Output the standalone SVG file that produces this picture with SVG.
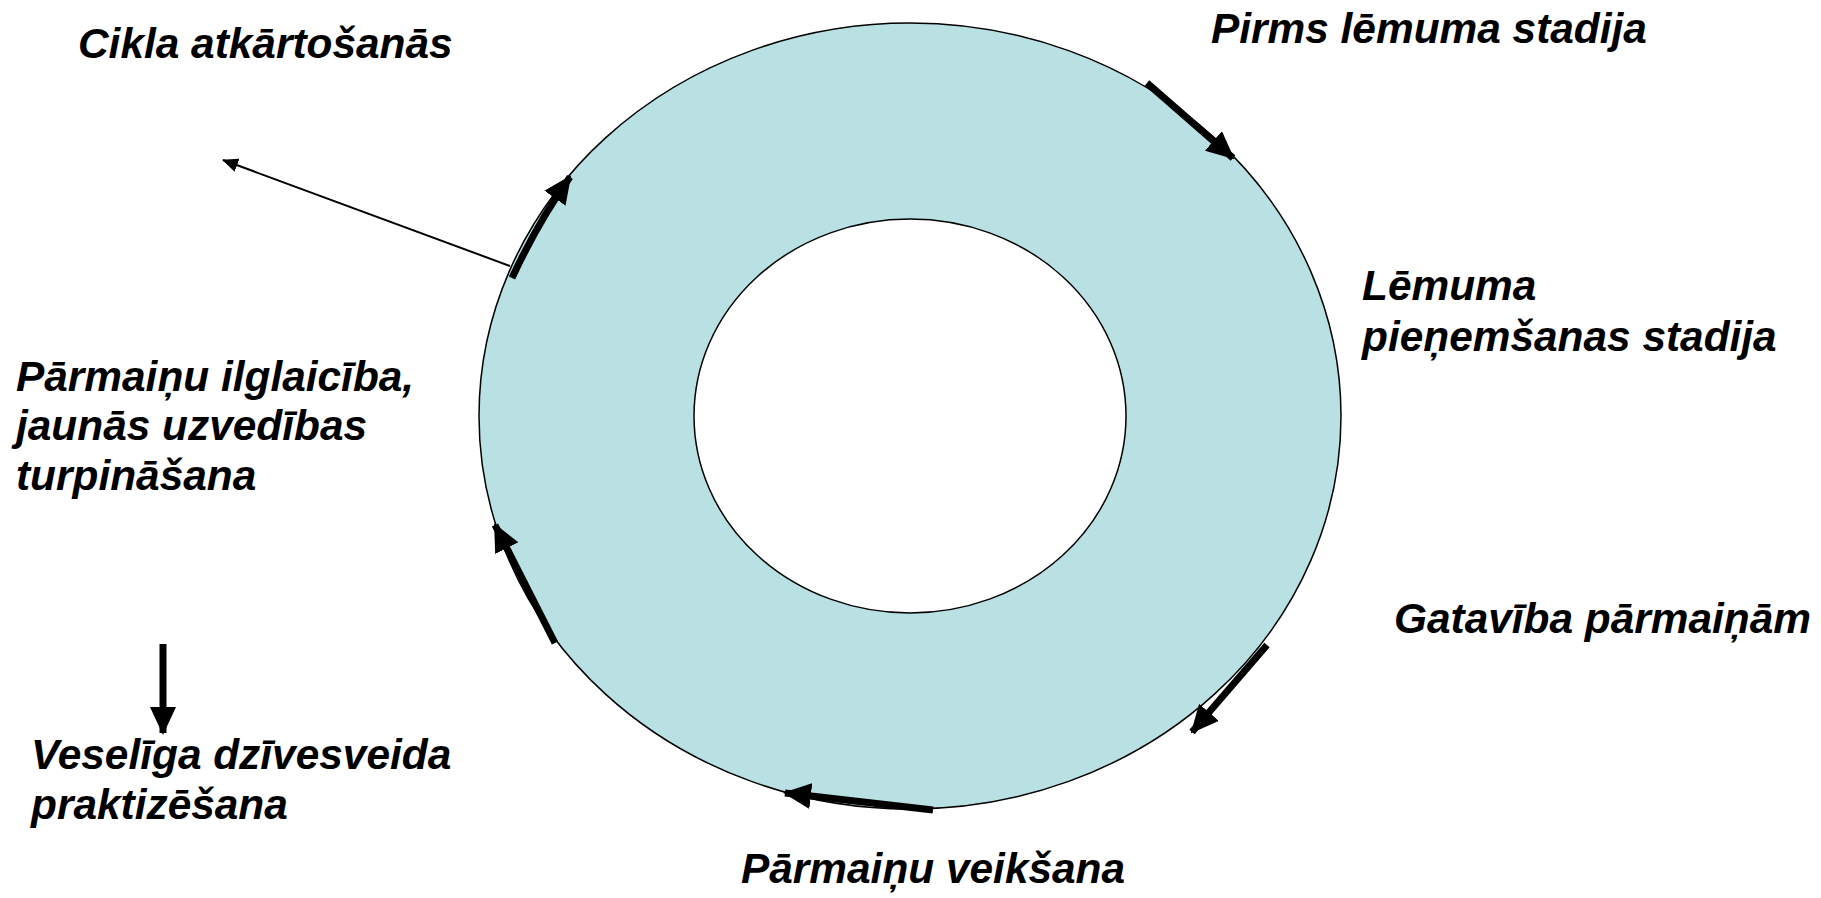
<svg xmlns="http://www.w3.org/2000/svg" width="1821" height="898" viewBox="0 0 1821 898">
<style>
.t{font-family:"Liberation Sans",Arial,sans-serif;font-size:42.4px;font-weight:bold;font-style:italic;fill:#000}
.thick{stroke:#000;stroke-width:7;fill:none}
.thin{stroke:#000;stroke-width:2;fill:none}
</style>
<defs>
<marker id="hb" markerUnits="userSpaceOnUse" markerWidth="28" markerHeight="26" refX="26" refY="13" orient="auto">
<path d="M0,0 L28,13 L0,26 z" fill="#000"/>
</marker>
<marker id="hs" markerUnits="userSpaceOnUse" markerWidth="16" markerHeight="14" refX="15" refY="7" orient="auto">
<path d="M0,0 L16,7 L0,14 z" fill="#000"/>
</marker>
</defs>
<g id="ring">
<ellipse cx="910" cy="416" rx="431" ry="393" fill="#b9e0e3" stroke="#000" stroke-width="1.5"/>
<ellipse cx="910" cy="416" rx="216" ry="197" fill="#fff" stroke="#000" stroke-width="1.5"/>
</g>
<g id="labels">
<text id="n1" class="t" x="78" y="58">Cikla atkārtošanās</text>
<text id="n2" class="t" x="1211" y="43">Pirms lēmuma stadija</text>
<text id="n3" class="t" x="1362" y="300">Lēmuma<tspan x="1362" y="351">pieņemšanas stadija</tspan></text>
<text id="n4" class="t" x="1394" y="633">Gatavība pārmaiņām</text>
<text id="n5" class="t" x="741" y="883">Pārmaiņu veikšana</text>
<text id="n6" class="t" x="16" y="391">Pārmaiņu ilglaicība,<tspan x="16" y="440">jaunās uzvedības</tspan><tspan x="16" y="490">turpināšana</tspan></text>
<text id="n7" class="t" x="31" y="769">Veselīga dzīvesveida<tspan x="31" y="819">praktizēšana</tspan></text>
</g>
<g id="connectors">
<line class="thick" x1="1147" y1="83" x2="1233" y2="158" marker-end="url(#hb)"/>
<line class="thick" x1="1267" y1="645" x2="1192" y2="732" marker-end="url(#hb)"/>
<line class="thick" x1="933" y1="810" x2="785" y2="793" marker-end="url(#hb)"/>
<line class="thick" x1="555" y1="643" x2="495" y2="525" marker-end="url(#hb)"/>
<path class="thick" d="M512,278 Q538,222 570,177" marker-end="url(#hb)"/>
<line class="thin" x1="510" y1="266" x2="223" y2="160" marker-end="url(#hs)"/>
<line class="thick" x1="163" y1="644" x2="163" y2="733" marker-end="url(#hb)"/>
</g>
</svg>
